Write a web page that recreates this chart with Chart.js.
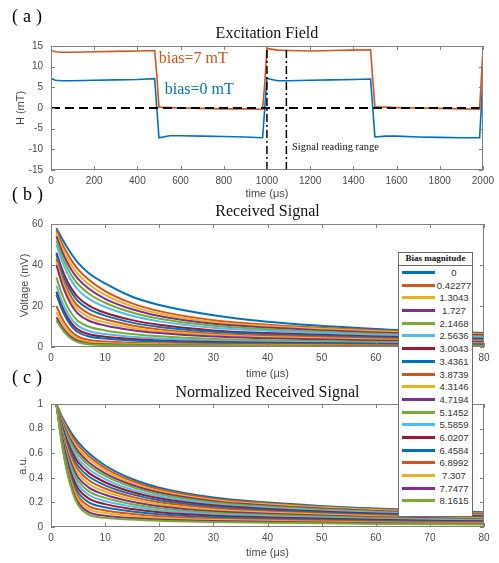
<!DOCTYPE html>
<html>
<head>
<meta charset="utf-8">
<script src="https://cdn.jsdelivr.net/npm/chart.js@4.4.0/dist/chart.umd.min.js"></script>
<style>
body { margin: 0; background: #fff; }
#wrap { position: relative; width: 499px; height: 563px; background: #fff; overflow: hidden; }
#wrap canvas { position: absolute; left: 0; }
#legend { position: absolute; left: 398px; top: 252px; width: 75px; height: 265px; box-sizing: border-box;
  border: 1px solid #6b6b6b; background: #fff; z-index: 5; font-family: 'Liberation Sans', Arial, sans-serif; }
#legend .lt { height: 12px; line-height: 12px; text-align: center; font: bold 9px 'Liberation Serif', serif;
  border-bottom: 1px solid #6b6b6b; color: #111; }
#legend .row { position: absolute; left: 0; height: 13px; display: flex; align-items: center; }
#legend .sw { width: 33px; height: 3px; margin-left: 3px; }
#legend .lb { width: 38px; text-align: center; font-size: 9.5px; color: #333; }
</style>
</head>
<body>
<div id="wrap">
<canvas id="chartA" width="499" height="205" style="top:0px"></canvas>
<canvas id="chartB" width="499" height="197" style="top:185px"></canvas>
<canvas id="chartC" width="499" height="198" style="top:365px"></canvas>
<div id="legend"></div>
</div>
<script>
// (a) excitation field
const timeA = [0, 20, 50, 100, 200, 300, 400, 480, 490, 500, 550, 600, 700, 800, 900, 980,
  990, 1000, 1010, 1050, 1100, 1200, 1300, 1400, 1480, 1490, 1500, 1550, 1600, 1700, 1800, 1900, 1985, 2000];
const fieldBias7 = [14.0, 13.6, 13.5, 13.5, 13.6, 13.7, 13.8, 13.9, 8.0, 0.2, 0.1, 0.0, -0.1, -0.2, -0.2, -0.3,
  6.0, 14.5, 14.3, 14.0, 13.9, 13.8, 13.9, 14.0, 14.1, 7.0, 0.3, 0.2, 0.1, 0.0, -0.1, -0.2, -0.3, 13.8];
const fieldBias0 = [7.2, 6.7, 6.6, 6.6, 6.7, 6.8, 6.9, 7.1, 0.0, -7.2, -6.7, -6.7, -6.8, -6.9, -7.0, -7.2,
  0.0, 7.3, 7.0, 6.6, 6.6, 6.7, 6.8, 6.9, 7.0, 0.0, -7.0, -6.8, -6.8, -7.0, -7.1, -7.2, -7.2, 7.0];
const readStart = 1000;
const readEnd = 1090;

// (b), (c) decay curves
const timeB = [1, 2, 3, 4, 5, 7, 10, 15, 20, 30, 40, 60, 80];
const biasLabels = ['0', '0.42277', '1.3043', '1.727', '2.1468', '2.5636', '3.0043', '3.4361', '3.8739', '4.3146',
  '4.7194', '5.1452', '5.5859', '6.0207', '6.4584', '6.8992', '7.307', '7.7477', '8.1615'];
const receivedSignal = [
  [58, 53, 48.5, 44.5, 41, 36, 31, 24.5, 20.5, 15.5, 12.3, 8.8, 6.8],
  [57, 50.7, 45.7, 41.4, 37.9, 32.8, 27.3, 21.3, 17.5, 13.1, 10.9, 8.2, 6.6],
  [55.5, 48.7, 43.4, 39.0, 35.5, 30.5, 25.4, 19.8, 16.3, 12.2, 10.2, 7.7, 6.1],
  [54, 46.8, 41.2, 36.7, 33.2, 28.4, 23.5, 18.4, 15.1, 11.3, 9.5, 7.1, 5.7],
  [52, 44.5, 38.7, 34.1, 30.6, 26.0, 21.6, 16.8, 13.8, 10.4, 8.7, 6.5, 5.2],
  [50, 42.2, 36.1, 31.4, 27.9, 23.5, 19.5, 15.2, 12.5, 9.4, 7.9, 5.9, 4.7],
  [46, 38.2, 32.1, 27.6, 24.2, 20.2, 16.7, 13.1, 10.8, 8.1, 6.8, 5.1, 4.0],
  [45, 36.7, 30.4, 25.7, 22.3, 18.5, 15.3, 11.9, 9.8, 7.4, 6.2, 4.6, 3.7],
  [43, 34.5, 28.1, 23.3, 20.0, 16.3, 13.5, 10.5, 8.6, 6.5, 5.5, 4.1, 3.3],
  [41.5, 32.8, 26.1, 21.4, 18.1, 14.5, 12.0, 9.3, 7.7, 5.8, 4.9, 3.7, 2.9],
  [40, 31.1, 24.3, 19.5, 16.2, 12.8, 10.5, 8.2, 6.8, 5.1, 4.3, 3.2, 2.6],
  [34, 26.0, 19.9, 15.6, 12.7, 9.9, 8.1, 6.3, 5.2, 3.9, 3.3, 2.5, 2.0],
  [30, 22.5, 16.9, 12.9, 10.3, 7.8, 6.3, 5.0, 4.1, 3.1, 2.6, 2.0, 1.6],
  [27, 19.9, 14.6, 10.9, 8.5, 6.2, 5.0, 3.9, 3.2, 2.5, 2.1, 1.6, 1.2],
  [25.5, 18.5, 13.2, 9.5, 7.2, 5.1, 4.1, 3.2, 2.7, 2.0, 1.7, 1.3, 1.0],
  [20, 14.2, 9.9, 6.9, 5.0, 3.4, 2.7, 2.1, 1.8, 1.4, 1.2, 0.9, 0.7],
  [17, 11.9, 8.1, 5.5, 3.8, 2.5, 1.9, 1.5, 1.3, 1.0, 0.9, 0.6, 0.5],
  [14.5, 10.0, 6.6, 4.3, 2.9, 1.7, 1.3, 1.1, 0.9, 0.7, 0.6, 0.4, 0.3],
  [13, 8.8, 5.7, 3.6, 2.3, 1.3, 1.0, 0.8, 0.7, 0.5, 0.5, 0.3, 0.3]
];
const normalizedSignal = [
  [1, 0.90, 0.82, 0.75, 0.69, 0.60, 0.50, 0.39, 0.32, 0.24, 0.20, 0.15, 0.12],
  [1, 0.889, 0.801, 0.727, 0.665, 0.575, 0.479, 0.374, 0.307, 0.23, 0.192, 0.144, 0.115],
  [1, 0.878, 0.782, 0.703, 0.639, 0.55, 0.458, 0.357, 0.293, 0.22, 0.184, 0.138, 0.11],
  [1, 0.867, 0.763, 0.68, 0.614, 0.525, 0.436, 0.341, 0.28, 0.21, 0.175, 0.131, 0.105],
  [1, 0.856, 0.744, 0.656, 0.588, 0.5, 0.415, 0.324, 0.266, 0.2, 0.167, 0.125, 0.1],
  [1, 0.843, 0.721, 0.628, 0.557, 0.47, 0.39, 0.304, 0.25, 0.188, 0.157, 0.118, 0.094],
  [1, 0.83, 0.698, 0.6, 0.527, 0.44, 0.364, 0.284, 0.234, 0.176, 0.147, 0.11, 0.088],
  [1, 0.816, 0.676, 0.571, 0.496, 0.41, 0.339, 0.265, 0.217, 0.164, 0.137, 0.103, 0.082],
  [1, 0.803, 0.653, 0.543, 0.466, 0.38, 0.313, 0.245, 0.201, 0.152, 0.127, 0.095, 0.076],
  [1, 0.79, 0.63, 0.515, 0.435, 0.35, 0.288, 0.225, 0.185, 0.14, 0.118, 0.088, 0.07],
  [1, 0.777, 0.607, 0.487, 0.404, 0.32, 0.262, 0.205, 0.169, 0.128, 0.108, 0.08, 0.064],
  [1, 0.764, 0.584, 0.459, 0.374, 0.29, 0.237, 0.185, 0.153, 0.116, 0.098, 0.073, 0.058],
  [1, 0.75, 0.562, 0.43, 0.343, 0.26, 0.211, 0.166, 0.136, 0.104, 0.088, 0.065, 0.052],
  [1, 0.737, 0.539, 0.402, 0.313, 0.23, 0.186, 0.146, 0.12, 0.092, 0.078, 0.058, 0.046],
  [1, 0.724, 0.516, 0.374, 0.282, 0.2, 0.16, 0.126, 0.104, 0.08, 0.068, 0.05, 0.04],
  [1, 0.711, 0.493, 0.346, 0.251, 0.17, 0.135, 0.106, 0.088, 0.068, 0.058, 0.043, 0.034],
  [1, 0.7, 0.474, 0.322, 0.226, 0.145, 0.113, 0.09, 0.074, 0.058, 0.05, 0.036, 0.029],
  [1, 0.689, 0.455, 0.299, 0.2, 0.12, 0.092, 0.073, 0.061, 0.048, 0.042, 0.03, 0.024],
  [1, 0.68, 0.44, 0.28, 0.18, 0.10, 0.075, 0.06, 0.05, 0.04, 0.035, 0.025, 0.02]
];

const matlabOrder = ['#0072BD', '#D95319', '#EDB120', '#7E2F8E', '#77AC30', '#4DBEEE', '#A2142F'];
const tickColor = '#4a4a4a';
const boxColor = '#808080';

Chart.defaults.font.family = "'Liberation Sans', Arial, sans-serif";
Chart.defaults.color = tickColor;

function pairs(xs, ys) {
    return xs.map((x, i) => ({x: x, y: ys[i]}));
}

// matlab style box with inward ticks on all sides
const matlabBox = {
    id: 'matlabBox',
    afterDatasetsDraw(chart) {
        const {ctx, chartArea: a, scales: {x, y}} = chart;
        const len = 4;
        ctx.save();
        ctx.strokeStyle = boxColor;
        ctx.lineWidth = 1;
        ctx.beginPath();
        x.ticks.forEach(t => {
            const px = Math.round(x.getPixelForValue(t.value)) + 0.5;
            ctx.moveTo(px, a.top); ctx.lineTo(px, a.top + len);
            ctx.moveTo(px, a.bottom); ctx.lineTo(px, a.bottom - len);
        });
        y.ticks.forEach(t => {
            const py = Math.round(y.getPixelForValue(t.value)) + 0.5;
            ctx.moveTo(a.left, py); ctx.lineTo(a.left + len, py);
            ctx.moveTo(a.right, py); ctx.lineTo(a.right - len, py);
        });
        ctx.stroke();
        ctx.strokeRect(Math.round(a.left) + 0.5, Math.round(a.top) + 0.5, Math.round(a.width) - 1, Math.round(a.height) - 1);
        ctx.restore();
    }
};

function textLayer(items) {
    return {
        id: 'textLayer',
        afterDraw(chart) {
            const ctx = chart.ctx;
            ctx.save();
            items.forEach(it => {
                ctx.font = it.font;
                ctx.fillStyle = it.color || '#000';
                ctx.textBaseline = 'middle';
                ctx.textAlign = 'left';
                ctx.letterSpacing = it.spacing || '0px';
                let px = it.x, py = it.y;
                if (it.data) {
                    px = chart.scales.x.getPixelForValue(it.x);
                    py = chart.scales.y.getPixelForValue(it.y);
                }
                ctx.fillText(it.text, px, py);
            });
            ctx.restore();
        }
    };
}

const plainNumber = v => String(Math.round(v * 1000) / 1000);

function makeOptions(o) {
    return {
        responsive: false,
        animation: false,
        devicePixelRatio: 1,
        layout: {padding: {top: 0, left: 0, right: 15, bottom: o.padBottom}},
        elements: {point: {radius: 0}, line: {tension: 0}},
        plugins: {
            legend: {display: false},
            tooltip: {enabled: false},
            title: {
                display: true, text: o.title, fullSize: false, color: '#111',
                font: {family: "'Liberation Serif', serif", size: 16, weight: 'normal'},
                padding: {top: o.titleTop, bottom: o.titleBottom}
            }
        },
        scales: {
            x: {
                type: 'linear', min: o.xMin, max: o.xMax,
                grid: {display: false, drawTicks: false}, border: {display: false},
                ticks: {stepSize: o.xStep, padding: 5, maxRotation: 0, autoSkip: false, font: {size: 10}, callback: plainNumber},
                title: {display: true, text: 'time (μs)', color: tickColor, font: {size: 11},
                    padding: {top: 0, bottom: o.xTitlePad}},
                afterFit: s => { s.height = o.xHeight; }
            },
            y: {
                type: 'linear', min: o.yMin, max: o.yMax,
                grid: {display: false, drawTicks: false}, border: {display: false},
                ticks: {stepSize: o.yStep, padding: 8, font: {size: 10}, callback: plainNumber},
                title: {display: true, text: o.yTitle, color: tickColor, font: {size: 11},
                    padding: {top: o.yTitlePad, bottom: 0}},
                afterFit: s => { s.width = 51; }
            }
        }
    };
}

// (a)
new Chart(document.getElementById('chartA'), {
    type: 'line',
    data: {
        datasets: [
            {data: [{x: 0, y: 0}, {x: 2000, y: 0}], borderColor: '#000', borderWidth: 2, borderDash: [9, 5]},
            {data: [{x: readStart, y: -15}, {x: readStart, y: 15}], borderColor: '#000', borderWidth: 1.5, borderDash: [8, 3, 2, 3]},
            {data: [{x: readEnd, y: -15}, {x: readEnd, y: 15}], borderColor: '#000', borderWidth: 1.5, borderDash: [8, 3, 2, 3]},
            {data: pairs(timeA, fieldBias7), borderColor: '#D95319', borderWidth: 1.6},
            {data: pairs(timeA, fieldBias0), borderColor: '#0072BD', borderWidth: 1.6}
        ]
    },
    options: makeOptions({
        title: 'Excitation Field', titleTop: 24, titleBottom: 2.8, padBottom: 3,
        xMin: 0, xMax: 2000, xStep: 200, xHeight: 32, xTitlePad: 1.4,
        yMin: -15, yMax: 15, yStep: 5, yTitle: 'H (mT)', yTitlePad: 14
    }),
    plugins: [matlabBox, textLayer([
        {text: '(a)', x: 12, y: 17, font: "18px 'Liberation Serif'", spacing: '5px'},
        {text: 'bias=7 mT', x: 499, y: 11.85, data: true, font: "16px 'Liberation Serif'", color: '#D95319'},
        {text: 'bias=0 mT', x: 527, y: 4.35, data: true, font: "16px 'Liberation Serif'", color: '#0072BD'},
        {text: 'Signal reading range', x: 1116, y: -9.4, data: true, font: "10.5px 'Liberation Serif'", color: '#111'}
    ])]
});

function decaySets(rows) {
    return rows.map((r, i) => ({
        data: pairs(timeB, r),
        borderColor: matlabOrder[i % matlabOrder.length],
        borderWidth: 2,
        cubicInterpolationMode: 'monotone',
        order: -i
    }));
}

// (b)
new Chart(document.getElementById('chartB'), {
    type: 'line',
    data: {datasets: decaySets(receivedSignal)},
    options: makeOptions({
        title: 'Received Signal', titleTop: 17.4, titleBottom: 2.4, padBottom: 0,
        xMin: 0, xMax: 80, xStep: 10, xHeight: 35, xTitlePad: 1.4,
        yMin: 0, yMax: 60, yStep: 20, yTitle: 'Voltage (mV)', yTitlePad: 18
    }),
    plugins: [matlabBox, textLayer([
        {text: '(b)', x: 12, y: 10.5, font: "18px 'Liberation Serif'", spacing: '5px'}
    ])]
});

// (c)
new Chart(document.getElementById('chartC'), {
    type: 'line',
    data: {datasets: decaySets(normalizedSignal)},
    options: makeOptions({
        title: 'Normalized Received Signal', titleTop: 17.9, titleBottom: 1.9, padBottom: 0,
        xMin: 0, xMax: 80, xStep: 10, xHeight: 36, xTitlePad: 3.4,
        yMin: 0, yMax: 1, yStep: 0.2, yTitle: 'a.u.', yTitlePad: 16
    }),
    plugins: [matlabBox, textLayer([
        {text: '(c)', x: 12, y: 13.5, font: "18px 'Liberation Serif'", spacing: '5px'}
    ])]
});

// shared legend
let html = '<div class="lt">Bias magnitude</div>';
biasLabels.forEach((b, i) => {
    const top = 13 + Math.round(i * 12.69);
    html += '<div class="row" style="top:' + top + 'px"><span class="sw" style="background:' +
        matlabOrder[i % matlabOrder.length] + '"></span><span class="lb">' + b + '</span></div>';
});
document.getElementById('legend').innerHTML = html;
</script>
</body>
</html>
